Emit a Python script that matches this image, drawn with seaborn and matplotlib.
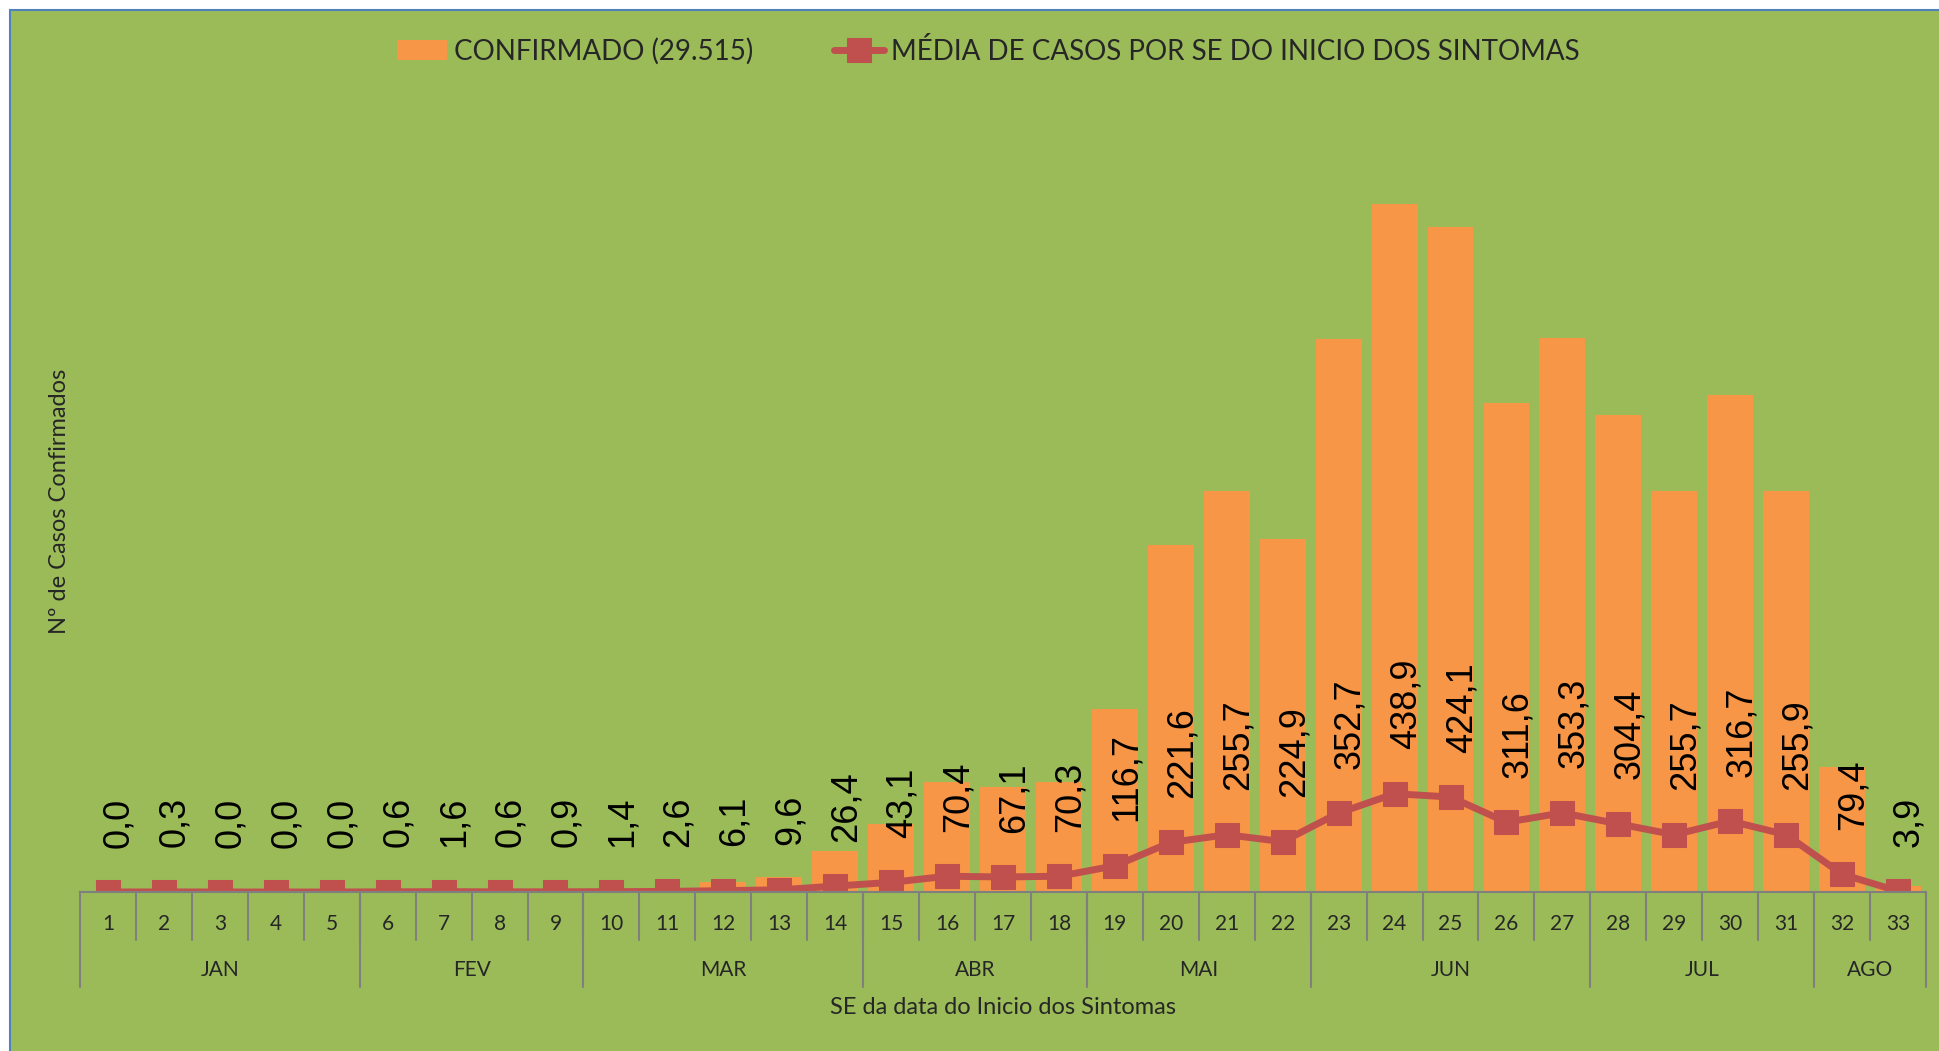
import numpy as np
import pandas as pd
import seaborn as sns
import matplotlib
matplotlib.use('Agg')
import matplotlib.pyplot as plt
import matplotlib.transforms as mtransforms
from matplotlib.patches import Rectangle

# semanas epidemiologicas (SE) e meses
semanas = [str(i) for i in range(1, 34)]
meses = ['JAN', 'FEV', 'MAR', 'ABR', 'MAI', 'JUN', 'JUL', 'AGO']
semanas_por_mes = [5, 4, 5, 4, 4, 5, 4, 2]

# casos confirmados por SE (barras)
confirmados = [0, 2, 0, 0, 0, 4, 11, 4, 6, 10, 18, 43, 67, 185, 302, 493, 470,
               492, 817, 1551, 1790, 1574, 2469, 3072, 2969, 2181, 2473, 2131,
               1790, 2217, 1791, 556, 27]

# media de casos por SE (linha)
media = [0.0, 0.3, 0.0, 0.0, 0.0, 0.6, 1.6, 0.6, 0.9, 1.4, 2.6, 6.1, 9.6, 26.4,
         43.1, 70.4, 67.1, 70.3, 116.7, 221.6, 255.7, 224.9, 352.7, 438.9, 424.1,
         311.6, 353.3, 304.4, 255.7, 316.7, 255.9, 79.4, 3.9]

df = pd.DataFrame({'semana': semanas, 'confirmados': confirmados, 'media': media})

verde = '#9BBB59'
laranja = '#F79646'
vermelho = '#C0504D'
cinza = '#7F7F7F'

sns.set_style('white')
plt.rcParams['font.family'] = ['Lato', 'DejaVu Sans']

W, H = 1939, 1051
fig = plt.figure(figsize=(W / 100, H / 100), dpi=100, facecolor='white')
fig.patches.append(Rectangle((10 / W, -0.01), 1.0, 1 - 10 / H + 0.01,
                             transform=fig.transFigure, facecolor=verde,
                             edgecolor='#4F81BD', linewidth=1.5, zorder=-10))

left, right, base, top = 80, 1926, 892, 108
ax = fig.add_axes([left / W, 1 - base / H, (right - left) / W, (base - top) / H])
ax.set_facecolor('none')

sns.barplot(data=df, x='semana', y='confirmados', order=semanas, color=laranja,
            saturation=1, width=0.82, edgecolor='none', linewidth=0, ax=ax,
            label='CONFIRMADO (29.515)')
x_pos = np.arange(len(semanas))
sns.lineplot(x=x_pos, y=df['media'].values, color=vermelho, marker='s',
             markersize=17, markeredgecolor=vermelho, linewidth=5, ax=ax,
             label='MÉDIA DE CASOS POR SE DO INICIO DOS SINTOMAS')

for i, v in enumerate(media):
    ax.annotate(f'{v:.1f}'.replace('.', ','), (i, v), xytext=(8, 32),
                textcoords='offset points', rotation=90, ha='center',
                va='bottom', fontsize=26, family=['Liberation Sans'],
                color='black')

ax.set_xlim(-0.5, len(semanas) - 0.5)
ax.set_ylim(0, 3500)
ax.set_xticks([])
ax.set_yticks([])
ax.set_xlabel('')
ax.set_ylabel('')
for s in ['top', 'right', 'left']:
    ax.spines[s].set_visible(False)
ax.spines['bottom'].set_color(cinza)
ax.spines['bottom'].set_linewidth(1.5)

# eixo x em dois niveis (semana / mes)
h_ax = base - top
trans = mtransforms.blended_transform_factory(ax.transData, ax.transAxes)
y_sem_lin = -(940 - base) / h_ax
y_mes_lin = -(987 - base) / h_ax
y_sem_txt = -(924 - base) / h_ax
y_mes_txt = -(970 - base) / h_ax

for i, s in enumerate(semanas):
    ax.text(i, y_sem_txt, s, transform=trans, ha='center', va='center',
            fontsize=15)
for i in range(1, len(semanas)):
    ax.plot([i - 0.5, i - 0.5], [0, y_sem_lin], transform=trans, color=cinza,
            lw=1.5, clip_on=False)

limites = np.concatenate([[0], np.cumsum(semanas_por_mes)]) - 0.5
for j, m in enumerate(meses):
    ax.text((limites[j] + limites[j + 1]) / 2, y_mes_txt, m, transform=trans,
            ha='center', va='center', fontsize=15)
for b in limites:
    ax.plot([b, b], [0, y_mes_lin], transform=trans, color=cinza, lw=1.5,
            clip_on=False)

fig.text(1003 / W, 1 - 1008 / H, 'SE da data do Inicio dos Sintomas',
         ha='center', va='center', fontsize=17)
fig.text(60 / W, 1 - 501 / H, 'Nº de Casos Confirmados', rotation=90,
         ha='center', va='center', fontsize=17)

ax.get_legend().remove()
handles, labels = ax.get_legend_handles_labels()
ordem = [labels.index('CONFIRMADO (29.515)'),
         labels.index('MÉDIA DE CASOS POR SE DO INICIO DOS SINTOMAS')]
fig.legend([handles[k] for k in ordem], [labels[k] for k in ordem],
           loc='center', ncol=2, bbox_to_anchor=(988 / W, 1 - 51 / H),
           frameon=False, fontsize=20, handlelength=1.8, handletextpad=0.25,
           columnspacing=2.9)

fig.savefig('out.png', dpi=100, facecolor='white')
